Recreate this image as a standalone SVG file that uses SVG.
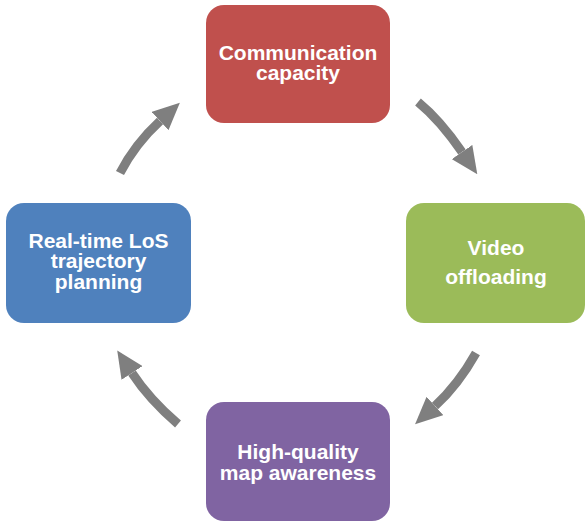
<svg xmlns="http://www.w3.org/2000/svg" width="586" height="523" viewBox="0 0 586 523">
<style>
.box{stroke:none}
.lbl{font-family:"Liberation Sans",Arial,sans-serif;font-weight:bold;font-size:21px;fill:#ffffff;text-anchor:middle}
.arc{fill:none;stroke:#7f7f7f;stroke-width:9;stroke-linecap:butt}
</style>
<defs>
<marker id="head" markerUnits="userSpaceOnUse" markerWidth="27" markerHeight="25" viewBox="0 0 27 25" refX="0" refY="12.5" orient="auto">
<path d="M0,0 L27,12.5 L0,25 Z" fill="#7f7f7f"/>
</marker>
</defs>
<g id="connectors">
<path class="arc" d="M418,102 Q440,120 462,152" marker-end="url(#head)"/>
<path class="arc" d="M476,353 Q458,385 435,406" marker-end="url(#head)"/>
<path class="arc" d="M178,424 Q149,399 132,373" marker-end="url(#head)"/>
<path class="arc" d="M120,173 Q135,144 160,121" marker-end="url(#head)"/>
</g>
<g id="node-communication">
<rect class="box" x="206" y="5" width="184" height="118" rx="18" fill="#c0504d"/>
<text class="lbl" x="298" y="60">Communication<tspan x="298" dy="20">capacity</tspan></text>
</g>
<g id="node-video">
<rect class="box" x="406" y="203" width="179" height="120" rx="18" fill="#9bbb59"/>
<text class="lbl" x="496" y="255">Video<tspan x="496" dy="28.5">offloading</tspan></text>
</g>
<g id="node-map">
<rect class="box" x="206" y="402" width="184" height="119" rx="18" fill="#8064a2"/>
<text class="lbl" x="298" y="459">High-quality<tspan x="298" dy="21">map awareness</tspan></text>
</g>
<g id="node-planning">
<rect class="box" x="6" y="203" width="185" height="120" rx="18" fill="#4f81bd"/>
<text class="lbl" x="98.5" y="248">Real-time LoS<tspan x="98.5" dy="20">trajectory</tspan><tspan x="98.5" dy="21">planning</tspan></text>
</g>
</svg>
